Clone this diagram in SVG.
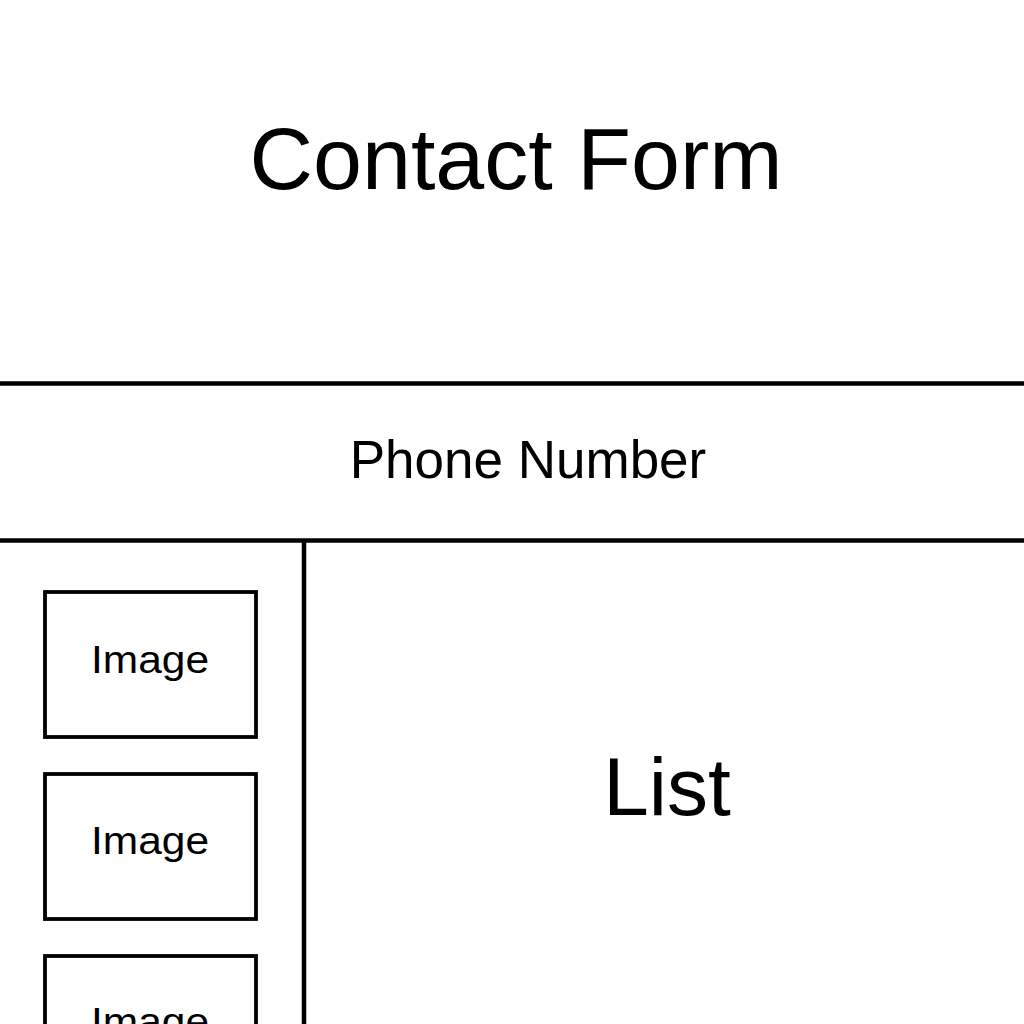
<svg xmlns="http://www.w3.org/2000/svg" width="1024" height="1024" viewBox="0 0 1024 1024">
<style>
.line{stroke:#000;stroke-width:4.5;fill:none}
.box{fill:#fff;stroke:#000;stroke-width:3.8}
text{font-family:"Liberation Sans",Arial,sans-serif;fill:#000;text-anchor:middle}
.img{font-size:38px}
</style>
<rect width="1024" height="1024" fill="#fff"/>
<g id="connectors">
<line class="line" x1="0" y1="383.5" x2="1024" y2="383.5"/>
<line class="line" x1="0" y1="540.5" x2="1024" y2="540.5"/>
<line class="line" x1="304" y1="540" x2="304" y2="1024"/>
</g>
<g id="title"><text x="516" y="189" font-size="88">Contact Form</text></g>
<g id="phone"><text x="528" y="478" font-size="53">Phone Number</text></g>
<g id="list"><text x="667" y="815" font-size="82">List</text></g>
<g id="image1"><rect class="box" x="45" y="592" width="211" height="145"/><text class="img" x="150" y="673" textLength="118" lengthAdjust="spacingAndGlyphs">Image</text></g>
<g id="image2"><rect class="box" x="45" y="774" width="211" height="145"/><text class="img" x="150" y="854" textLength="118" lengthAdjust="spacingAndGlyphs">Image</text></g>
<g id="image3"><rect class="box" x="45" y="956" width="211" height="145"/><text class="img" x="150" y="1035" textLength="118" lengthAdjust="spacingAndGlyphs">Image</text></g>
</svg>
